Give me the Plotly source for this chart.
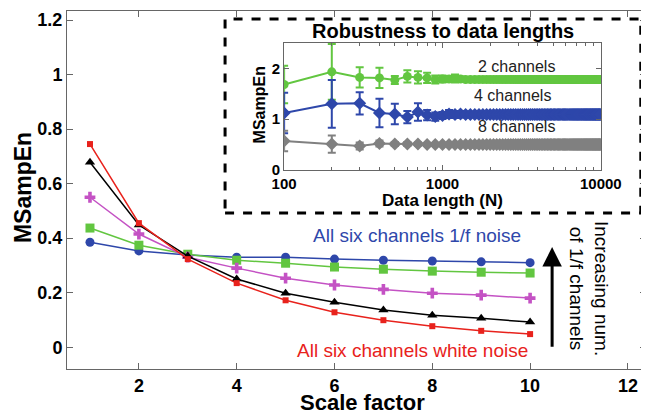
import math
import plotly.graph_objects as go

# ---------------- main chart data ----------------
scale = [1, 2, 3, 4, 5, 6, 7, 8, 9, 10]
all_1f   = [0.385, 0.353, 0.338, 0.330, 0.330, 0.323, 0.319, 0.316, 0.313, 0.310]
ch_green = [0.437, 0.374, 0.341, 0.319, 0.308, 0.294, 0.286, 0.279, 0.275, 0.272]
ch_mag   = [0.550, 0.415, 0.330, 0.290, 0.253, 0.228, 0.212, 0.198, 0.191, 0.180]
ch_black = [0.678, 0.448, 0.334, 0.250, 0.198, 0.165, 0.136, 0.117, 0.106, 0.092]
all_wn   = [0.745, 0.455, 0.323, 0.235, 0.172, 0.128, 0.099, 0.077, 0.060, 0.048]

# ---------------- inset data ----------------
data_len = list(range(100, 10001, 100))
ch2 = [1.68, 1.93, 1.82, 1.81, 1.77, 1.84, 1.82, 1.81, 1.78, 1.79,
       1.79, 1.80, 1.79, 1.78, 1.78, 1.78, 1.78, 1.78, 1.78, 1.78,
       1.78, 1.78, 1.78, 1.78, 1.78, 1.78, 1.78, 1.78, 1.78, 1.78,
       1.78, 1.78, 1.78, 1.78, 1.78, 1.78, 1.78, 1.78, 1.78, 1.78,
       1.78, 1.78, 1.78, 1.78, 1.78, 1.78, 1.78, 1.78, 1.78, 1.78,
       1.78, 1.78, 1.78, 1.78, 1.78, 1.78, 1.78, 1.78, 1.78, 1.78,
       1.78, 1.78, 1.78, 1.78, 1.78, 1.78, 1.78, 1.78, 1.78, 1.78,
       1.78, 1.78, 1.78, 1.78, 1.78, 1.78, 1.78, 1.78, 1.78, 1.78,
       1.78, 1.78, 1.78, 1.78, 1.78, 1.78, 1.78, 1.78, 1.78, 1.78,
       1.78, 1.78, 1.78, 1.78, 1.78, 1.78, 1.78, 1.78, 1.78, 1.78]
ch2_err = [0.37, 0.55, 0.20, 0.20, 0.08, 0.12, 0.12, 0.10, 0.08, 0.07,
           0.06, 0.08, 0.05, 0.05, 0.04, 0.04, 0.04, 0.04, 0.04, 0.04,
           0.04, 0.04, 0.04, 0.04, 0.04, 0.04, 0.04, 0.04, 0.04, 0.04,
           0.04, 0.04, 0.04, 0.04, 0.04, 0.04, 0.04, 0.04, 0.04, 0.04,
           0.04, 0.04, 0.04, 0.04, 0.04, 0.04, 0.04, 0.04, 0.04, 0.04,
           0.04, 0.04, 0.04, 0.04, 0.04, 0.04, 0.04, 0.04, 0.04, 0.04,
           0.04, 0.04, 0.04, 0.04, 0.04, 0.04, 0.04, 0.04, 0.04, 0.04,
           0.04, 0.04, 0.04, 0.04, 0.04, 0.04, 0.04, 0.04, 0.04, 0.04,
           0.04, 0.04, 0.04, 0.04, 0.04, 0.04, 0.04, 0.04, 0.04, 0.04,
           0.04, 0.04, 0.04, 0.04, 0.04, 0.04, 0.04, 0.04, 0.04, 0.04]
ch4 = [1.12, 1.30, 1.31, 1.12, 1.10, 1.04, 1.14, 1.08, 1.05, 1.07,
       1.10, 1.09, 1.10, 1.09, 1.09, 1.09, 1.09, 1.09, 1.09, 1.09,
       1.09, 1.09, 1.09, 1.09, 1.09, 1.09, 1.09, 1.09, 1.09, 1.09,
       1.09, 1.09, 1.09, 1.09, 1.09, 1.09, 1.09, 1.09, 1.09, 1.09,
       1.09, 1.09, 1.09, 1.09, 1.09, 1.09, 1.09, 1.09, 1.09, 1.09,
       1.09, 1.09, 1.09, 1.09, 1.09, 1.09, 1.09, 1.09, 1.09, 1.09,
       1.09, 1.09, 1.09, 1.09, 1.09, 1.09, 1.09, 1.09, 1.09, 1.09,
       1.09, 1.09, 1.09, 1.09, 1.09, 1.09, 1.09, 1.09, 1.09, 1.09,
       1.09, 1.09, 1.09, 1.09, 1.09, 1.09, 1.09, 1.09, 1.09, 1.09,
       1.09, 1.09, 1.09, 1.09, 1.09, 1.09, 1.09, 1.09, 1.09, 1.09]
ch4_err = [0.40, 0.47, 0.22, 0.28, 0.20, 0.12, 0.17, 0.10, 0.08, 0.07,
           0.08, 0.07, 0.06, 0.06, 0.05, 0.05, 0.05, 0.05, 0.05, 0.05,
           0.05, 0.05, 0.05, 0.05, 0.05, 0.05, 0.05, 0.05, 0.05, 0.05,
           0.05, 0.05, 0.05, 0.05, 0.05, 0.05, 0.05, 0.05, 0.05, 0.05,
           0.05, 0.05, 0.05, 0.05, 0.05, 0.05, 0.05, 0.05, 0.05, 0.05,
           0.05, 0.05, 0.05, 0.05, 0.05, 0.05, 0.05, 0.05, 0.05, 0.05,
           0.05, 0.05, 0.05, 0.05, 0.05, 0.05, 0.05, 0.05, 0.05, 0.05,
           0.05, 0.05, 0.05, 0.05, 0.05, 0.05, 0.05, 0.05, 0.05, 0.05,
           0.05, 0.05, 0.05, 0.05, 0.05, 0.05, 0.05, 0.05, 0.05, 0.05,
           0.05, 0.05, 0.05, 0.05, 0.05, 0.05, 0.05, 0.05, 0.05, 0.05]
ch8 = [0.57, 0.51, 0.47, 0.52, 0.51, 0.51, 0.51, 0.50, 0.50, 0.50,
       0.50, 0.50, 0.50, 0.50, 0.50, 0.50, 0.50, 0.50, 0.50, 0.50,
       0.50, 0.50, 0.50, 0.50, 0.50, 0.50, 0.50, 0.50, 0.50, 0.50,
       0.50, 0.50, 0.50, 0.50, 0.50, 0.50, 0.50, 0.50, 0.50, 0.50,
       0.50, 0.50, 0.50, 0.50, 0.50, 0.50, 0.50, 0.50, 0.50, 0.50,
       0.50, 0.50, 0.50, 0.50, 0.50, 0.50, 0.50, 0.50, 0.50, 0.50,
       0.50, 0.50, 0.50, 0.50, 0.50, 0.50, 0.50, 0.50, 0.50, 0.50,
       0.50, 0.50, 0.50, 0.50, 0.50, 0.50, 0.50, 0.50, 0.50, 0.50,
       0.50, 0.50, 0.50, 0.50, 0.50, 0.50, 0.50, 0.50, 0.50, 0.50,
       0.50, 0.50, 0.50, 0.50, 0.50, 0.50, 0.50, 0.50, 0.50, 0.50]
ch8_err = [0.20, 0.17, 0.07, 0.06, 0.04, 0.04, 0.03, 0.03, 0.03, 0.03,
           0.03, 0.03, 0.03, 0.03, 0.03, 0.03, 0.03, 0.03, 0.03, 0.03,
           0.03, 0.03, 0.03, 0.03, 0.03, 0.03, 0.03, 0.03, 0.03, 0.03,
           0.03, 0.03, 0.03, 0.03, 0.03, 0.03, 0.03, 0.03, 0.03, 0.03,
           0.03, 0.03, 0.03, 0.03, 0.03, 0.03, 0.03, 0.03, 0.03, 0.03,
           0.03, 0.03, 0.03, 0.03, 0.03, 0.03, 0.03, 0.03, 0.03, 0.03,
           0.03, 0.03, 0.03, 0.03, 0.03, 0.03, 0.03, 0.03, 0.03, 0.03,
           0.03, 0.03, 0.03, 0.03, 0.03, 0.03, 0.03, 0.03, 0.03, 0.03,
           0.03, 0.03, 0.03, 0.03, 0.03, 0.03, 0.03, 0.03, 0.03, 0.03,
           0.03, 0.03, 0.03, 0.03, 0.03, 0.03, 0.03, 0.03, 0.03, 0.03]

BLUE = "#2E47AA"
GREEN = "#62C640"
MAG = "#C452C4"
BLACK = "#000000"
RED = "#E8221C"
GRAY = "#808080"
FONT = "Arial, Liberation Sans, sans-serif"

fig = go.Figure()

main_series = [
    (all_1f, BLUE, "circle", 9),
    (ch_green, GREEN, "square", 9),
    (ch_mag, MAG, "cross", 9),
    (ch_black, BLACK, "triangle-up", 9),
    (all_wn, RED, "square", 6),
]
for ys, col, sym, sz in main_series:
    fig.add_trace(go.Scatter(x=scale, y=ys, mode="lines+markers",
                             line=dict(color=col, width=1.5),
                             marker=dict(color=col, symbol=sym, size=sz),
                             showlegend=False, xaxis="x", yaxis="y"))

inset_series = [
    (ch2, ch2_err, GREEN, "circle", 9),
    (ch4, ch4_err, BLUE, "diamond", 10),
    (ch8, ch8_err, GRAY, "diamond", 10),
]
for ys, es, col, sym, sz in inset_series:
    fig.add_trace(go.Scatter(x=data_len, y=ys, mode="lines+markers",
                             line=dict(color=col, width=2),
                             marker=dict(color=col, symbol=sym, size=sz),
                             error_y=dict(type="data", array=es, visible=True,
                                          color=col, thickness=2, width=4),
                             showlegend=False, xaxis="x2", yaxis="y2"))

axis_common = dict(showgrid=False, zeroline=False, showline=True, linecolor="#666",
                   linewidth=1, mirror="ticks", ticks="inside", tickcolor="#666",
                   automargin=False)

# the page body adds an 8px offset, so the figure is 8px smaller than the window
fig.update_layout(
    width=641, height=408,
    margin=dict(l=59, r=3, t=3, b=47),
    paper_bgcolor="white", plot_bgcolor="white",
    font=dict(family=FONT, color="black"),
    xaxis=dict(**axis_common, range=[0.53, 12.37], tickvals=[2, 4, 6, 8, 10, 12],
               ticklen=6, tickfont=dict(size=18, family=FONT, weight="bold")),
    yaxis=dict(**axis_common, range=[-0.08, 1.233], tickvals=[0, 0.2, 0.4, 0.6, 0.8, 1, 1.2],
               ticktext=["0", "0.2", "0.4", "0.6", "0.8", "1", "1.2"],
               ticklen=6, tickfont=dict(size=18, family=FONT, weight="bold")),
    xaxis2=dict(**axis_common, type="log", range=[2, 4], domain=[0.375, 0.922],
                anchor="y2", tickvals=[100, 1000, 10000], ticktext=["100", "1000", "10000"],
                ticklen=5, tickfont=dict(size=15, family=FONT, weight="bold"),
                minor=dict(ticks="inside", ticklen=3, tickcolor="#666",
                           tickvals=[200, 300, 400, 500, 600, 700, 800, 900,
                                     2000, 3000, 4000, 5000, 6000, 7000, 8000, 9000])),
    yaxis2=dict(**axis_common, range=[0, 2.5], domain=[0.556, 0.911], anchor="x2",
                tickvals=[0, 1, 2], ticklen=5,
                tickfont=dict(size=15, family=FONT, weight="bold")),
)

# axis titles as annotations (paper coordinates)
fig.add_annotation(text="<b>Scale factor</b>", xref="paper", yref="paper", x=0.51, y=-0.0945,
                   showarrow=False, font=dict(size=22, color="black"),
                   xanchor="center", yanchor="middle")
fig.add_annotation(text="<b>MSampEn</b>", xref="paper", yref="paper", x=-0.075, y=0.507,
                   showarrow=False, textangle=-90, font=dict(size=23, color="black"),
                   xanchor="center", yanchor="middle")
fig.add_annotation(text="<b>Data length (N)</b>", xref="paper", yref="paper", x=0.649, y=0.472,
                   showarrow=False, font=dict(size=17, color="black"),
                   xanchor="center", yanchor="middle")
fig.add_annotation(text="<b>MSampEn</b>", xref="paper", yref="paper", x=0.332, y=0.737,
                   showarrow=False, textangle=-90, font=dict(size=16, color="black"),
                   xanchor="center", yanchor="middle")

# dashed frame around inset
fig.add_shape(type="rect", xref="paper", yref="paper", x0=0.273, x1=0.991, y0=0.436, y1=0.978,
              line=dict(color="black", width=3, dash="dash"), fillcolor="rgba(0,0,0,0)", layer="above")

fig.add_annotation(text="<b>Robustness to data lengths</b>", xref="paper", yref="paper",
                   x=0.649, y=0.944, showarrow=False, font=dict(size=20, color="black"),
                   xanchor="center", yanchor="middle")

for txt, xv, yv in [("2 channels", 2920, 2.03), ("4 channels", 2750, 1.46), ("8 channels", 2920, 0.85)]:
    fig.add_annotation(text=txt, xref="x2", yref="y2", x=math.log10(xv), y=yv,
                       showarrow=False, font=dict(size=16, color="#222"),
                       xanchor="center", yanchor="middle")

fig.add_annotation(text="All six channels 1/f noise", xref="x", yref="y", x=7.69, y=0.411,
                   showarrow=False, font=dict(size=19, color=BLUE), xanchor="center")
fig.add_annotation(text="All six channels white noise", xref="x", yref="y", x=7.59, y=-0.011,
                   showarrow=False, font=dict(size=19, color=RED), xanchor="center")
fig.add_annotation(x=10.45, y=0.367, ax=10.45, ay=-0.004, xref="x", yref="y", axref="x", ayref="y",
                   showarrow=True, arrowhead=2, arrowsize=1.3, arrowwidth=3, arrowcolor="black", text="")
fig.add_annotation(text="Increasing num.<br>of 1/f channels", xref="x", yref="y", x=11.19, y=0.216,
                   textangle=90, showarrow=False, font=dict(size=19, color="black"),
                   xanchor="center", yanchor="middle")

fig.write_html("out.html")
